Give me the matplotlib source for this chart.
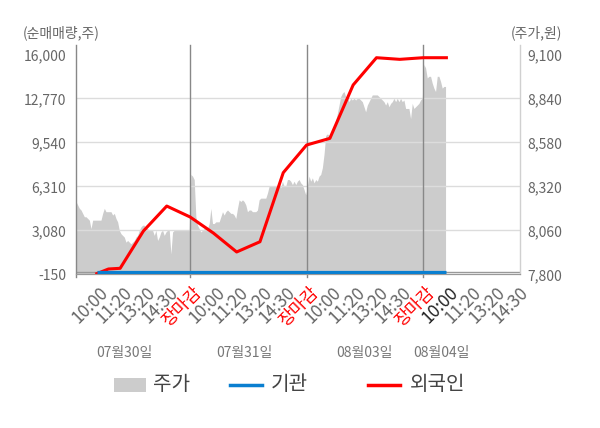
import numpy as np
import matplotlib.pyplot as plt
from matplotlib.patches import Rectangle
from matplotlib.lines import Line2D
from matplotlib.transforms import ScaledTranslation

plt.rcParams['font.family'] = ['Noto Sans CJK KR', 'DejaVu Sans']

days = ['07월30일', '07월31일', '08월03일', '08월04일']
times = ['10:00', '11:20', '13:20', '14:30', '장마감']

# price (주가), sampled evenly through each session
price_d1 = [8230, 8230, 8210, 8190, 8180, 8160, 8140, 8140, 8130, 8120, 8070,
            8120, 8120, 8120, 8120, 8120, 8120, 8160, 8190, 8170, 8170,
            8170, 8170, 8150, 8160, 8130, 8110, 8060, 8040, 8030, 8020,
            7990, 8000, 7990, 7980, 7990, 8000, 8020, 8030, 8060, 8080,
            8090, 8090, 8070, 8070, 8060, 8060, 8060, 8030, 8060, 8000,
            8020, 8050, 8060, 8030, 8050, 8060, 8060, 7920, 8050, 8060,
            8060, 8060, 8060, 8060, 8060, 8060, 8060, 8060, 8060]
price_d2 = [8390, 8380, 8360, 8140, 8090, 8070, 8050, 8060, 8070, 8080,
            8070, 8100, 8190, 8100, 8100, 8110, 8110, 8110, 8140, 8170,
            8150, 8170, 8180, 8170, 8160, 8160, 8150, 8130, 8190, 8240,
            8230, 8240, 8230, 8210, 8170, 8180, 8180, 8170, 8170, 8170,
            8180, 8240, 8250, 8250, 8250, 8250, 8280, 8320, 8320, 8320,
            8320, 8320, 8320, 8340, 8310, 8350, 8320, 8320, 8360, 8360,
            8350, 8330, 8350, 8330, 8350, 8360, 8340, 8330, 8300, 8270]
price_d3 = [8320, 8380, 8350, 8370, 8340, 8360, 8350, 8380, 8390, 8430,
            8510, 8620, 8630, 8620, 8630, 8640, 8660, 8710, 8750, 8800,
            8850, 8870, 8880, 8850, 8850, 8820, 8840, 8830, 8840, 8830,
            8840, 8840, 8830, 8820, 8790, 8760, 8800, 8820, 8840, 8860,
            8860, 8860, 8860, 8850, 8840, 8830, 8820, 8800, 8820, 8790,
            8810, 8820, 8840, 8820, 8840, 8820, 8840, 8820, 8830, 8780,
            8780, 8780, 8720, 8810, 8780, 8790, 8800, 8810, 8830, 8840]
price_d4 = [9040, 9020, 8960, 8970, 8970, 8930, 8900, 8880, 8970, 8970,
            8940, 8900, 8910, 8910]

# net buying (순매매량), x in tick slots (1 = 10:00 of first day)
foreign_x = [1, 1.5, 2, 3, 4, 5, 6, 7, 8, 9, 10, 11, 12, 13, 14, 15, 16]
foreign = [-100, 240, 290, 3030, 4860, 4060, 2880, 1490, 2240, 7310,
           9340, 9830, 13750, 15750, 15630, 15750, 15750]
inst_x = [1, 16]
inst = [0, 0]

left_ticks = [-150, 3080, 6310, 9540, 12770, 16000]
right_ticks = [7800, 8060, 8320, 8580, 8840, 9100]

GRAY = '#cccccc'
BLUE = '#0a7fd0'
RED = '#ff0000'

fig = plt.figure(figsize=(6, 4.28), dpi=100)
ax = fig.add_axes([0.1267, 0.3591, 0.74, 0.5194])
axp = ax.twinx()
ax.set_zorder(axp.get_zorder() + 1)
ax.patch.set_visible(False)
axp.set_facecolor('#f4f4f4')

# price area
px, py = [], []
for d, vals in enumerate([price_d1, price_d2, price_d3, price_d4]):
    step = 5 / 70
    px.extend(5 * d + (np.arange(len(vals)) + 0.5) * step)
    py.extend(vals)
axp.fill_between(px, py, 7800, color=GRAY, lw=0)

ax.set_xlim(0.107, 19.16)
ax.set_ylim(-150, 16169)
axp.set_ylim(7800, 9113.6)

for t in left_ticks[1:-1]:
    ax.axhline(t, color='#dcdcdc', lw=1, zorder=1)
ax.axhline(0, color='#999999', lw=1, zorder=1.2)

trans = ax.get_xaxis_transform()
for x in [5, 10, 15]:
    ax.plot([x, x], [-0.012, 1.031], transform=trans, color='#888888', lw=1,
            clip_on=False, zorder=1.5)
ax.plot([0, 0], [-0.012, 1.031], transform=ax.transAxes, color='#888888', lw=1,
        clip_on=False)
ax.plot([1, 1], [0, 1.031], transform=ax.transAxes, color='#d0d0d0', lw=1,
        clip_on=False)

ax.plot(inst_x, inst, color=BLUE, lw=2.3, zorder=3, solid_capstyle='butt')
ax.plot(foreign_x, foreign, color=RED, lw=2.2, zorder=2.5)

for a in (ax, axp):
    for s in ['left', 'right', 'top']:
        a.spines[s].set_visible(False)
    a.spines['bottom'].set_color('#999999')

ax.set_yticks(left_ticks)
ax.set_yticklabels([f'{v:,}' for v in left_ticks])
axp.set_yticks(right_ticks)
axp.set_yticklabels([f'{v:,}' for v in right_ticks])
ax.tick_params(axis='y', length=0, labelsize=10, labelcolor='#666666', pad=7)
axp.tick_params(axis='y', length=0, labelsize=10, labelcolor='#666666', pad=5)

xt, xl = [], []
for d in range(4):
    for i, t in enumerate(times):
        pos = 5 * d + i + 1
        if pos > 19:
            continue
        xt.append(pos)
        xl.append(t)
ax.set_xticks(xt)
ax.set_xticklabels(xl, rotation=45, ha='right', va='top', rotation_mode='anchor')
ax.tick_params(axis='x', length=0, labelsize=12.5, labelcolor='#666666', pad=6.5)
shift = ScaledTranslation(2 / 72, 0, fig.dpi_scale_trans)
for pos, lab in zip(xt, ax.get_xticklabels()):
    lab.set_transform(lab.get_transform() + shift)
    if lab.get_text() == '장마감':
        lab.set_color(RED)
    elif pos == 16:
        lab.set_color('#222222')

for x, d in zip([2.2, 7.35, 12.5, 15.8], days):
    ax.text(x, -0.355, d, transform=trans, ha='center', va='center',
            fontsize=10, color='#777777')

fig.text(22.7 / 600, 1 - 33 / 428, '(순매매량,주)', ha='left', va='center',
         fontsize=10, color='#666666')
fig.text(562 / 600, 1 - 33 / 428, '(주가,원)', ha='right', va='center',
         fontsize=10, color='#666666')

# legend drawn by hand so the gaps match
W, H = 600, 428
ly = 1 - 385 / H
fig.add_artist(Rectangle((114 / W, 1 - 392 / H), 32 / W, 14 / H,
                         transform=fig.transFigure, facecolor=GRAY, edgecolor='none'))
fig.add_artist(Line2D([230 / W, 262 / W], [ly, ly], transform=fig.transFigure,
                      color=BLUE, lw=2.5))
fig.add_artist(Line2D([368 / W, 400 / W], [ly, ly], transform=fig.transFigure,
                      color=RED, lw=2.5))
for x, lab in zip([153, 271, 410], ['주가', '기관', '외국인']):
    fig.text(x / W, ly, lab, ha='left', va='center', fontsize=14.5, color='#444444')

fig.savefig('out.png', dpi=100)
